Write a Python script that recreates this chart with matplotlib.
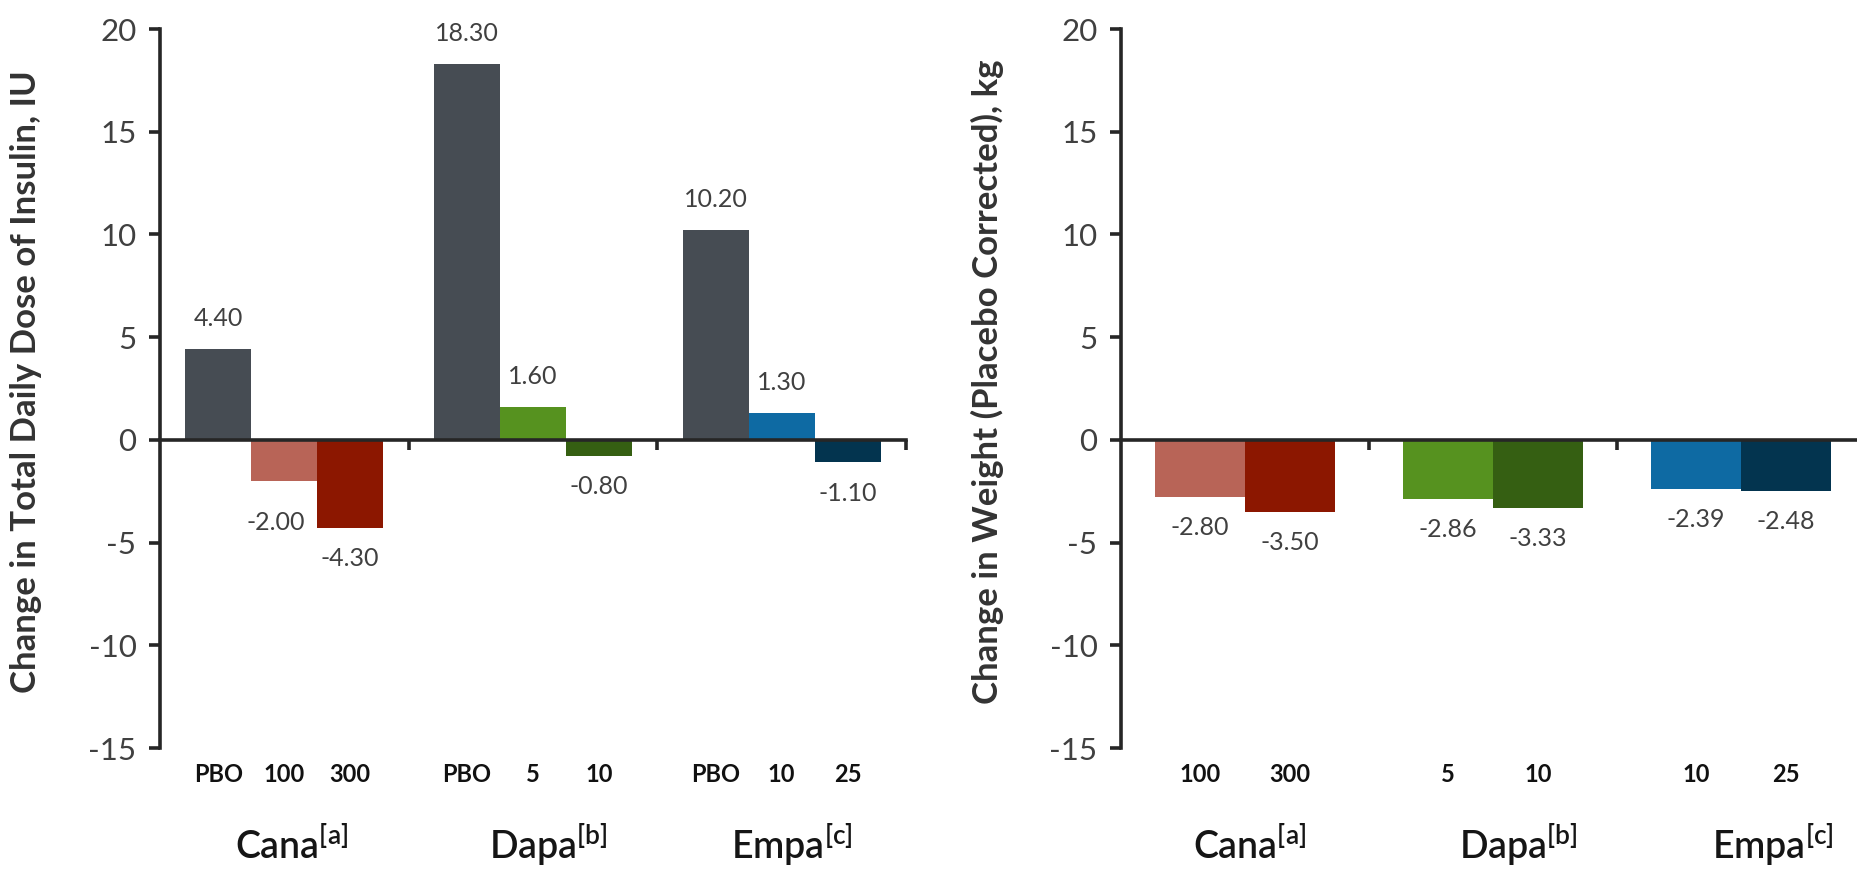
import numpy as np
import matplotlib
matplotlib.use("Agg")
import matplotlib.pyplot as plt
import matplotlib.transforms as mtransforms

plt.rcParams['font.family'] = ['Lato', 'DejaVu Sans']
plt.rcParams['mathtext.default'] = 'regular'
plt.rcParams['axes.unicode_minus'] = False

# data
groups = ['Cana$^{[a]}$', 'Dapa$^{[b]}$', 'Empa$^{[c]}$']

insulin_doses = [['PBO', '100', '300'], ['PBO', '5', '10'], ['PBO', '10', '25']]
insulin_vals = [[4.40, -2.00, -4.30], [18.30, 1.60, -0.80], [10.20, 1.30, -1.10]]

weight_doses = [['100', '300'], ['5', '10'], ['10', '25']]
weight_vals = [[-2.80, -3.50], [-2.86, -3.33], [-2.39, -2.48]]

pbo_color = '#464c53'
drug_colors = [['#b86457', '#8c1700'], ['#56921f', '#355f12'], ['#0e6aa3', '#03344f']]

axis_col = '#262626'
tick_col = '#404040'


def style_axes(ax, ylabel, grp_shift):
    ax.set_ylim(-15, 20)
    ax.set_xlim(-0.5, 2.5)
    ax.set_yticks(np.arange(-15, 21, 5))
    for s in ['top', 'right']:
        ax.spines[s].set_visible(False)
    ax.spines['left'].set_color(axis_col)
    ax.spines['left'].set_linewidth(2.6)
    ax.spines['bottom'].set_position(('data', 0))
    ax.spines['bottom'].set_color(axis_col)
    ax.spines['bottom'].set_linewidth(2.6)
    ax.spines['bottom'].set_zorder(5)
    ax.set_xticks([0.5, 1.5, 2.5])
    ax.set_xticklabels([])
    ax.tick_params(axis='x', direction='out', length=7, width=2.6, color=axis_col)
    ax.tick_params(axis='y', direction='out', length=8, width=2.6, color=axis_col,
                   labelsize=22.5, labelcolor=tick_col, pad=9)
    ax.set_ylabel(ylabel, fontsize=25, fontweight='bold', color='#333333')
    trans = mtransforms.blended_transform_factory(ax.transData, ax.transAxes)
    for i, g in enumerate(groups):
        ax.text(i + grp_shift[i], -0.153, g, transform=trans, ha='center', va='baseline',
                fontsize=27, fontweight='semibold', color='#151515')
    return trans


fig = plt.figure(figsize=(18.57, 8.71), dpi=100)
ax1 = fig.add_axes([160 / 1857, 123 / 871, 746 / 1857, 719 / 871])
ax2 = fig.add_axes([1121 / 1857, 123 / 871, 744 / 1857, 719 / 871])

# left panel: insulin dose
w1 = 0.265
trans1 = style_axes(ax1, 'Change in Total Daily Dose of Insulin, IU', [0.03, 0.06, 0.04])
ax1.yaxis.set_label_coords(-0.158, 0.51)
for i in range(3):
    for j in range(3):
        x = i + (j - 1) * w1
        v = insulin_vals[i][j]
        c = pbo_color if j == 0 else drug_colors[i][j - 1]
        ax1.bar(x, v, width=w1, color=c, zorder=3)
        dx, dy = 0, (22 if v > 0 else -22)
        if i == 0 and j == 1:
            dx, dy = -6, -30
        ax1.annotate(f'{v:.2f}', (x, v), xytext=(dx, dy), textcoords='offset points',
                     ha='center', va='center', fontsize=18, color=tick_col)
        ax1.text(x, -0.047, insulin_doses[i][j], transform=trans1, ha='center',
                 va='baseline', fontsize=17, fontweight='bold', color='#111111')

# right panel: weight
w2 = 0.363
trans2 = style_axes(ax2, 'Change in Weight (Placebo Corrected), kg', [0.02, 0.1, 0.13])
ax2.yaxis.set_label_coords(-0.157, 0.51)
for i in range(3):
    for j in range(2):
        x = i + (j - 0.5) * w2
        v = weight_vals[i][j]
        ax2.bar(x, v, width=w2, color=drug_colors[i][j], zorder=3)
        ax2.annotate(f'{v:.2f}', (x, v), xytext=(0, -22), textcoords='offset points',
                     ha='center', va='center', fontsize=18, color=tick_col)
        ax2.text(x, -0.047, weight_doses[i][j], transform=trans2, ha='center',
                 va='baseline', fontsize=17, fontweight='bold', color='#111111')

fig.savefig('out.png', dpi=100)
